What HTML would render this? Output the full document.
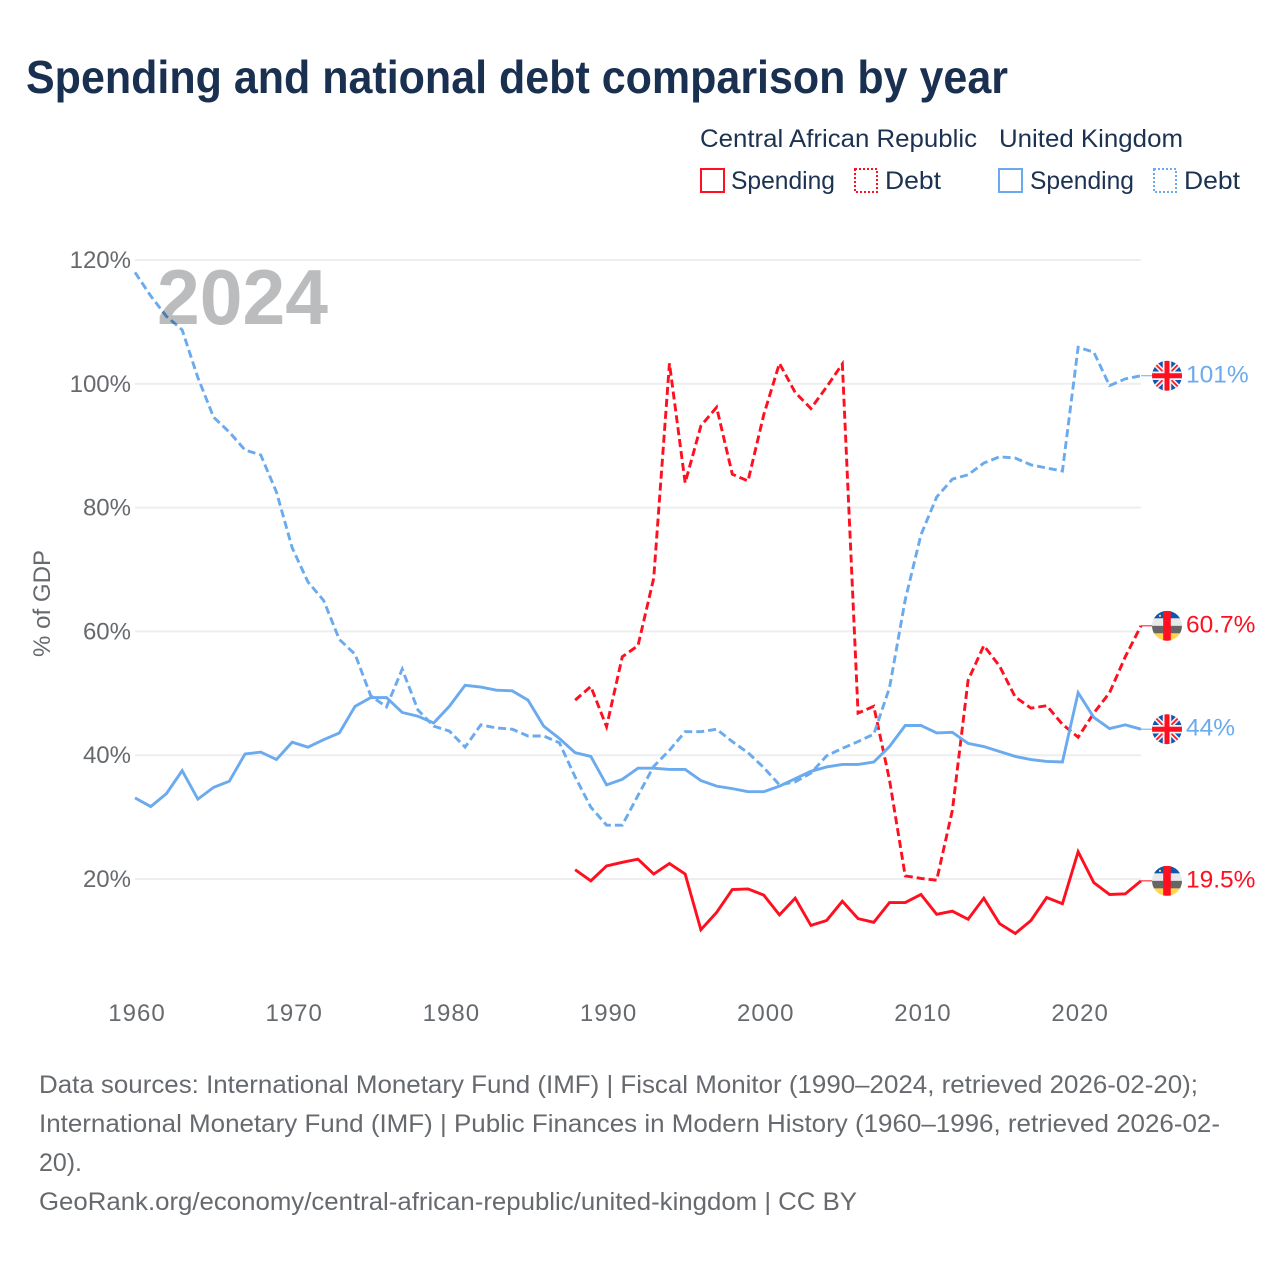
<!DOCTYPE html>
<html lang="en">
<head>
<meta charset="utf-8">
<title>Spending and national debt comparison by year</title>
<style>
  html, body { margin: 0; padding: 0; background: #fff; }
  svg { display: block; font-family: "Liberation Sans", sans-serif; }
  .legend-text { font-size: 25px; fill: #1c3251; }
  .foot { font-size: 25px; fill: #666a6e; }
</style>
</head>
<body>
<svg id="chart" width="1280" height="1280" viewBox="0 0 1280 1280" xmlns="http://www.w3.org/2000/svg">
  <defs>
    <clipPath id="flag-clip"><circle cx="0" cy="0" r="15"></circle></clipPath>
    <g id="flag-uk" clip-path="url(#flag-clip)">
      <rect x="-15" y="-15" width="30" height="30" fill="#0f56ad"></rect>
      <path d="M-15 -15L15 15M15 -15L-15 15" stroke="#f4f4f4" stroke-width="5"></path>
      <path d="M-15 -15L15 15M15 -15L-15 15" stroke="#ff1a2a" stroke-width="1.8"></path>
      <path d="M0 -15V15M-15 0H15" stroke="#f4f4f4" stroke-width="8.5"></path>
      <path d="M0 -15V15M-15 0H15" stroke="#ff0f1f" stroke-width="5"></path>
    </g>
    <g id="flag-car" clip-path="url(#flag-clip)">
      <rect x="-15" y="-15" width="30" height="7.6" fill="#0f56ad"></rect>
      <rect x="-15" y="-7.5" width="30" height="7.6" fill="#e9e9e9"></rect>
      <rect x="-15" y="0" width="30" height="7.6" fill="#666666"></rect>
      <rect x="-15" y="7.5" width="30" height="7.6" fill="#ffd54f"></rect>
      <rect x="-3.8" y="-15" width="7.6" height="30" fill="#ff0f1f"></rect>
      <rect x="-8" y="-11" width="2" height="2" fill="#ffd54f"></rect>
    </g>
  </defs>

  <text x="26" y="93" font-size="46" font-weight="700" fill="#1a3050" textLength="982" lengthAdjust="spacingAndGlyphs">Spending and national debt comparison by year</text>

  <g>
    <text class="legend-text" x="700" y="147" textLength="277" lengthAdjust="spacingAndGlyphs">Central African Republic</text>
    <text class="legend-text" x="999" y="147" textLength="184" lengthAdjust="spacingAndGlyphs">United Kingdom</text>
    <g>
      <rect x="701" y="169" width="23" height="23" fill="none" stroke="#ff0f1f" stroke-width="2"></rect>
      <text class="legend-text" x="731" y="189" textLength="104" lengthAdjust="spacingAndGlyphs">Spending</text>
    </g>
    <g>
      <rect x="855" y="169" width="22" height="23" fill="none" stroke="#ff0f1f" stroke-width="2" stroke-dasharray="2 2"></rect>
      <text class="legend-text" x="885" y="189" textLength="56" lengthAdjust="spacingAndGlyphs">Debt</text>
    </g>
    <g>
      <rect x="999" y="169" width="23" height="23" fill="none" stroke="#6aaaee" stroke-width="2"></rect>
      <text class="legend-text" x="1030" y="189" textLength="104" lengthAdjust="spacingAndGlyphs">Spending</text>
    </g>
    <g>
      <rect x="1154" y="169" width="22" height="23" fill="none" stroke="#6aaaee" stroke-width="2" stroke-dasharray="2 2"></rect>
      <text class="legend-text" x="1184" y="189" textLength="56" lengthAdjust="spacingAndGlyphs">Debt</text>
    </g>
  </g>

  <text transform="translate(50,603.5) rotate(-90)" text-anchor="middle" font-size="24" fill="#666a6e" textLength="107" lengthAdjust="spacingAndGlyphs">% of GDP</text>

  <g id="grid"></g>
  <g id="y-ticks"></g>
  <g id="x-ticks"></g>
  <g id="series"></g>

  <text x="157" y="324" font-size="78" font-weight="700" fill="#bbbcbe" textLength="171" lengthAdjust="spacingAndGlyphs" style="mix-blend-mode:multiply">2024</text>

  <g id="end-markers"></g>

  <g>
    <text class="foot" x="39" y="1093" textLength="1159" lengthAdjust="spacingAndGlyphs">Data sources: International Monetary Fund (IMF) | Fiscal Monitor (1990–2024, retrieved 2026-02-20);</text>
    <text class="foot" x="39" y="1132" textLength="1181" lengthAdjust="spacingAndGlyphs">International Monetary Fund (IMF) | Public Finances in Modern History (1960–1996, retrieved 2026-02-</text>
    <text class="foot" x="39" y="1171" textLength="43" lengthAdjust="spacingAndGlyphs">20).</text>
    <text class="foot" x="39" y="1210" textLength="818" lengthAdjust="spacingAndGlyphs">GeoRank.org/economy/central-african-republic/united-kingdom | CC BY</text>
  </g>

<script>
const yTickValues = [20, 40, 60, 80, 100, 120];
const xTickYears = [1960, 1970, 1980, 1990, 2000, 2010, 2020];

const ukStartYear = 1960;
const carStartYear = 1988;

const ukDebt = [118, 114.2, 110.9, 108.7, 101, 94.6, 92.2, 89.3, 88.5, 82.5,
  73.5, 68, 65, 58.7, 56.3, 49.6, 47.8, 53.9, 47.3, 44.7,
  43.9, 41.3, 44.9, 44.4, 44.2, 43.1, 43.1, 42, 36.5, 31.6,
  28.7, 28.7, 33.5, 38.2, 40.8, 43.8, 43.8, 44.2, 42.2, 40.4,
  38, 35.2, 35.7, 37.1, 39.9, 41.1, 42.2, 43.4, 50.9, 65.1,
  75.6, 81.7, 84.6, 85.3, 87.2, 88.2, 88, 86.9, 86.4, 85.9,
  105.9, 105.1, 99.7, 100.8, 101.3];

const ukSpending = [33.1, 31.7, 33.8, 37.5, 32.9, 34.8, 35.8, 40.2, 40.5, 39.3,
  42.1, 41.3, 42.5, 43.6, 47.9, 49.3, 49.3, 46.9, 46.3, 45.2,
  47.9, 51.3, 51, 50.5, 50.4, 48.9, 44.7, 42.7, 40.4, 39.8,
  35.2, 36.1, 37.9, 37.9, 37.7, 37.7, 35.9, 35, 34.6, 34.1,
  34.1, 35, 36.2, 37.4, 38.1, 38.5, 38.5, 38.9, 41.4, 44.8,
  44.8, 43.6, 43.7, 41.9, 41.4, 40.6, 39.8, 39.3, 39, 38.9,
  50.1, 46.1, 44.3, 44.9, 44.2];

const carDebt = [48.9, 51.1, 44.6, 55.9, 57.7, 68.6, 103.3, 84, 93.2, 96.2,
  85.4, 84.3, 95, 103.3, 98.6, 96, 99.5, 103.2, 46.8, 47.9,
  36, 20.5, 20.1, 19.8, 31.1, 52.1, 57.7, 54.4, 49.4, 47.6,
  48, 45, 42.9, 46.8, 50.1, 55.9, 60.9];

const carSpending = [21.5, 19.7, 22.1, 22.7, 23.2, 20.8, 22.5, 20.8, 11.8, 14.6,
  18.3, 18.4, 17.4, 14.2, 16.9, 12.5, 13.3, 16.4, 13.6, 13,
  16.2, 16.2, 17.5, 14.3, 14.8, 13.5, 16.9, 12.8, 11.2, 13.3,
  17, 16, 24.4, 19.4, 17.5, 17.6, 19.7];

const ukDebtLabel = '101%';
const ukSpendingLabel = '44%';
const carDebtLabel = '60.7%';
const carSpendingLabel = '19.5%';

const SVGNS = 'http://www.w3.org/2000/svg';
const RED = '#ff0f1f';
const BLUE = '#6aaaee';

function xScale(year) { return 135 + (year - 1960) * (1141 - 135) / 64; }
function yScale(v) { return 1002.8 - v * 6.19; }

function mk(tag, parent) {
  const el = document.createElementNS(SVGNS, tag);
  parent.appendChild(el);
  return el;
}

const gridG = document.getElementById('grid');
const yTicksG = document.getElementById('y-ticks');
const xTicksG = document.getElementById('x-ticks');
const seriesG = document.getElementById('series');
const markersG = document.getElementById('end-markers');

yTickValues.forEach(function (v) {
  const line = mk('line', gridG);
  
  
  line.setAttribute('x1', xScale(1960));
  line.setAttribute('x2', xScale(2024));
  line.setAttribute('y1', yScale(v));
  line.setAttribute('y2', yScale(v));
  line.setAttribute('stroke', '#eeeeee');
  line.setAttribute('stroke-width', '2');

  const t = mk('text', yTicksG);
  
  
  t.setAttribute('x', 131);
  t.setAttribute('y', yScale(v) + 8);
  t.setAttribute('text-anchor', 'end');
  t.setAttribute('font-size', '24');
  t.setAttribute('fill', '#666a6e');
  t.textContent = v + '%';
});

xTickYears.forEach(function (year) {
  const t = mk('text', xTicksG);
  
  
  t.setAttribute('x', xScale(year) + 2);
  t.setAttribute('y', 1021);
  t.setAttribute('text-anchor', 'middle');
  t.setAttribute('font-size', '24');
  t.setAttribute('letter-spacing', '1');
  t.setAttribute('fill', '#666a6e');
  t.textContent = String(year);
});

function drawSeries(values, startYear, color, dashed, name) {
  const pts = values.map(function (v, i) {
    return xScale(startYear + i).toFixed(2) + ',' + yScale(v).toFixed(2);
  }).join(' ');
  const line = mk('polyline', seriesG);
  
  
  line.setAttribute('points', pts);
  line.setAttribute('fill', 'none');
  line.setAttribute('stroke', color);
  line.setAttribute('stroke-width', '2.9');
  line.setAttribute('stroke-linejoin', 'miter');
  if (dashed) line.setAttribute('stroke-dasharray', '8 4');
}

function drawMarker(values, startYear, color, flagId, label, name) {
  const lastYear = startYear + values.length - 1;
  const lastVal = values[values.length - 1];
  const px = xScale(lastYear);
  const py = yScale(lastVal);

  const conn = mk('line', markersG);
  
  
  conn.setAttribute('x1', px);
  conn.setAttribute('x2', px + 12);
  conn.setAttribute('y1', py);
  conn.setAttribute('y2', py);
  conn.setAttribute('stroke', color);
  conn.setAttribute('stroke-width', '1');

  const flag = mk('use', markersG);
  
  
  flag.setAttribute('href', '#' + flagId);
  flag.setAttribute('transform', 'translate(' + (px + 26) + ',' + py + ')');

  const t = mk('text', markersG);
  
  
  t.setAttribute('x', px + 45);
  t.setAttribute('y', py + 6.5);
  t.setAttribute('font-size', '24.5');
  t.setAttribute('fill', color);
  t.textContent = label;
}

drawSeries(carSpending, carStartYear, RED, false, 'car-spending-line');
drawSeries(carDebt, carStartYear, RED, true, 'car-debt-line');
drawSeries(ukSpending, ukStartYear, BLUE, false, 'uk-spending-line');
drawSeries(ukDebt, ukStartYear, BLUE, true, 'uk-debt-line');

drawMarker(ukDebt, ukStartYear, BLUE, 'flag-uk', ukDebtLabel, 'uk-debt');
drawMarker(ukSpending, ukStartYear, BLUE, 'flag-uk', ukSpendingLabel, 'uk-spending');
drawMarker(carDebt, carStartYear, RED, 'flag-car', carDebtLabel, 'car-debt');
drawMarker(carSpending, carStartYear, RED, 'flag-car', carSpendingLabel, 'car-spending');
</script>
</svg>
</body>
</html>
